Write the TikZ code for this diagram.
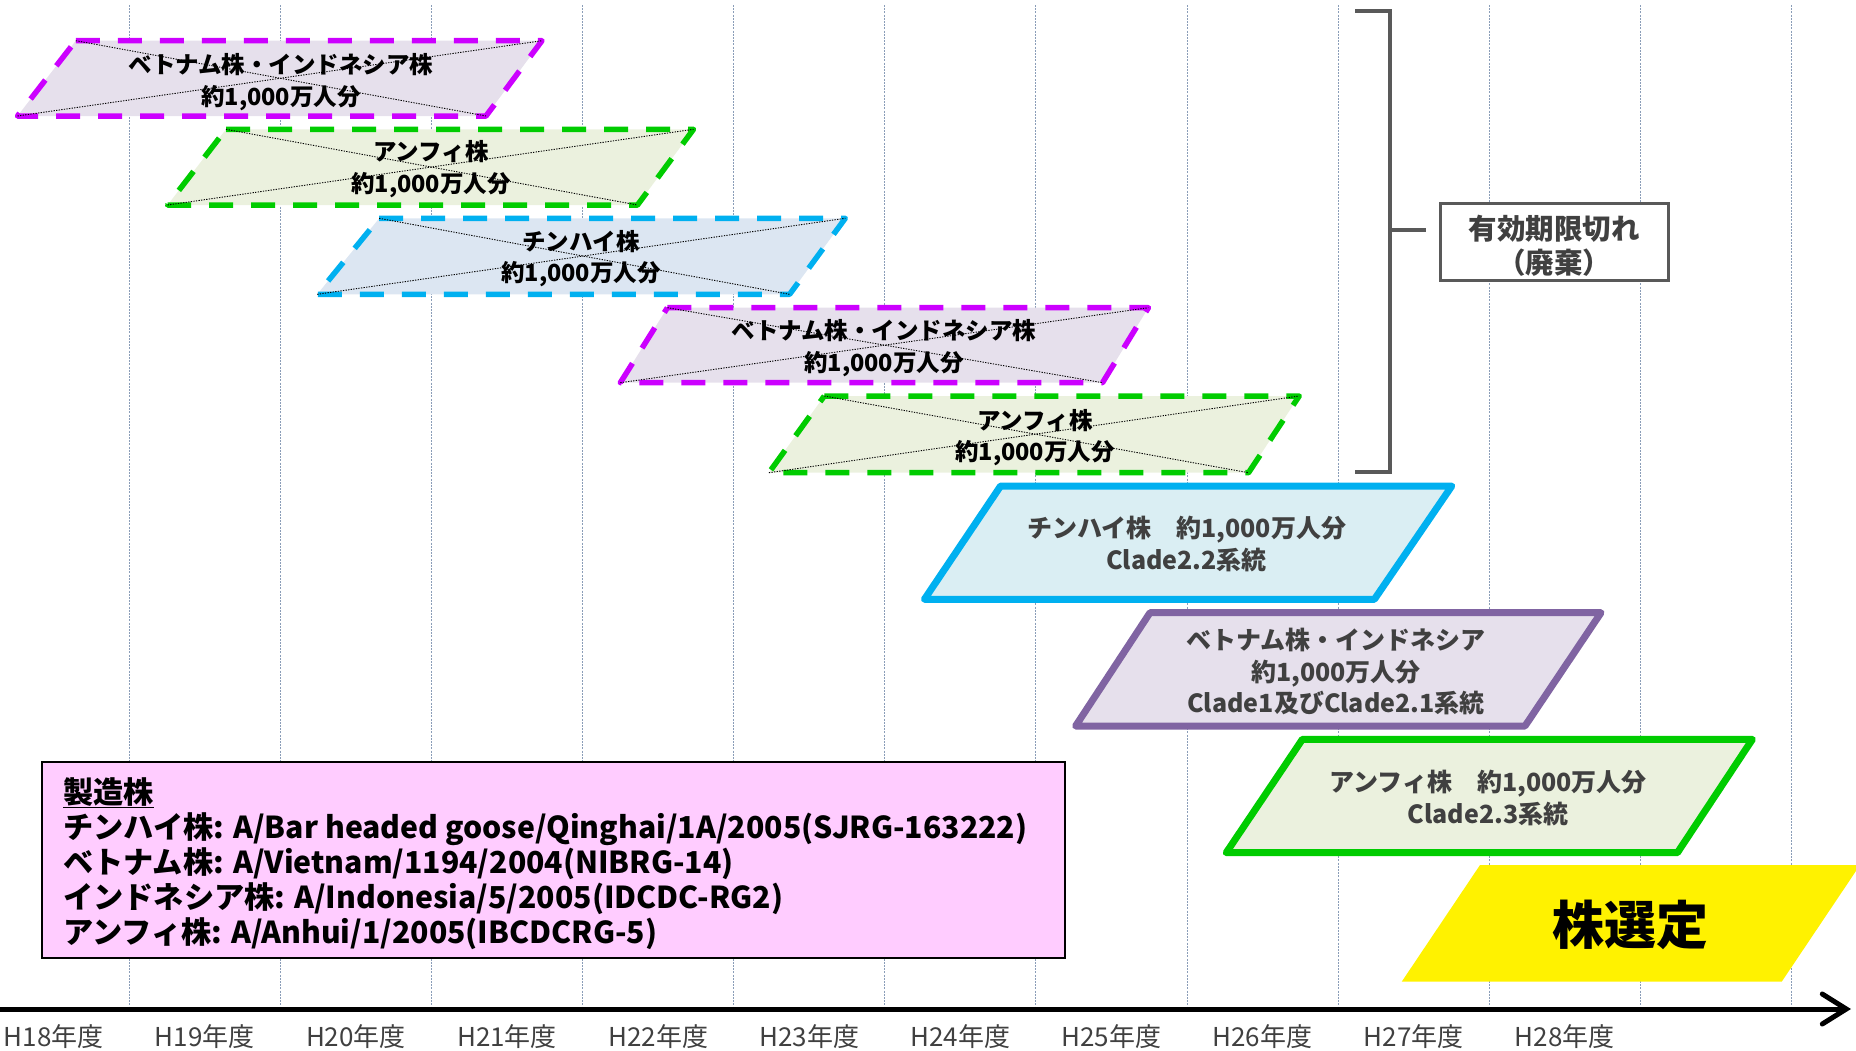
\documentclass[tikz,border=0pt]{standalone}
\usepackage{fontspec}
\setmainfont{Noto Sans CJK JP}
\usetikzlibrary{arrows.meta}
\definecolor{dpurple}{HTML}{CC00FF}
\definecolor{dgreen}{HTML}{00CC00}
\definecolor{dblue}{HTML}{00B0F0}
\definecolor{fpurple}{HTML}{E6E0EC}
\definecolor{fgreen}{HTML}{EBF1DE}
\definecolor{fblue}{HTML}{DCE6F2}
\definecolor{fcyan}{HTML}{DAEEF3}
\definecolor{spurple}{HTML}{8064A2}
\definecolor{fpink}{HTML}{FFCCFF}
\definecolor{brkgray}{HTML}{595959}
\definecolor{txtgray}{HTML}{404040}
\definecolor{gridc}{HTML}{8A9DB8}
\newcommand\plg[8]{%
  \coordinate (#1-tl) at (#5,#3);
  \coordinate (#1-tr) at (#6,#3);
  \coordinate (#1-br) at (#7,#4);
  \coordinate (#1-bl) at (#8,#4);
  \path[#2] (#1-tl) -- (#1-tr) -- (#1-br) -- (#1-bl) -- cycle;}
\newcommand\xcross[1]{%
  \draw[xline] (#1-tl) -- (#1-br);
  \draw[xline] (#1-bl) -- (#1-tr);}
\begin{document}
\begin{tikzpicture}[x=1pt,y=-1pt,
  gridl/.style={draw=gridc,line width=0.9pt,dash pattern=on 2pt off 1.2pt},
  dashbox/.style={line width=5.5pt,dash pattern=on 24pt off 18pt,line join=round},
  solidbox/.style={line width=7pt,line join=round},
  xline/.style={draw=black,line width=0.9pt,dash pattern=on 1.3pt off 1.3pt},
  dtxt/.style={align=center,inner sep=0pt,text=black,font=\bfseries\fontsize{23.5}{31.5}\selectfont},
  stxt/.style={align=center,inner sep=0pt,text=txtgray,font=\bfseries\fontsize{25}{31.7}\selectfont},
  yearlbl/.style={inner sep=0pt,text=txtgray,font=\fontsize{26}{30}\selectfont},
  brk/.style={draw=brkgray,line width=4pt},
]
\useasboundingbox (0,0) rectangle (1856,1050);
% grid lines
\foreach \i in {0,...,11}{
  \draw[gridl] (129.3+151.1*\i,5) -- (129.3+151.1*\i,1007);
}
% dashed (expired) boxes
\plg{d1}{fill=fpurple,draw=dpurple,dashbox}{40.7}{116}{75.8}{542}{486}{17.5}
\xcross{d1}
\node[dtxt] (t1) at (281,82) {ベトナム株・インドネシア株\\約1,000万人分};
\plg{d2}{fill=fgreen,draw=dgreen,dashbox}{129.3}{205}{226}{693.5}{637.5}{167.6}
\xcross{d2}
\node[dtxt] (t2) at (431,169) {アンフィ株\\約1,000万人分};
\plg{d3}{fill=fblue,draw=dblue,dashbox}{218.3}{294.3}{379.2}{845.3}{789.6}{317.2}
\xcross{d3}
\node[dtxt] (t3) at (581,258.7) {チンハイ株\\約1,000万人分};
\plg{d4}{fill=fpurple,draw=dpurple,dashbox}{307.7}{382.7}{667.4}{1148.4}{1102.5}{620.3}
\xcross{d4}
\node[dtxt] (t4) at (884,348.3) {ベトナム株・インドネシア株\\約1,000万人分};
\plg{d5}{fill=fgreen,draw=dgreen,dashbox}{396}{472.7}{824.3}{1299.2}{1248.5}{768.9}
\xcross{d5}
\node[dtxt] (t5) at (1035,437.5) {アンフィ株\\約1,000万人分};
% solid (current) boxes
\plg{s1}{fill=fcyan,draw=dblue,solidbox}{486}{599.3}{1000.6}{1451.8}{1374.4}{924.4}
\node[stxt] (t6) at (1186.6,544) {チンハイ株　約1,000万人分\\Clade2.2系統};
\plg{s2}{fill=fpurple,draw=spurple,solidbox}{612.7}{726}{1150}{1601}{1525}{1075.6}
\node[stxt] (t7) at (1336,671.7) {ベトナム株・インドネシア\\約1,000万人分\\Clade1及びClade2.1系統};
\plg{s3}{fill=fgreen,draw=dgreen,solidbox}{739.3}{852.7}{1302.4}{1752.4}{1677.4}{1226.2}
\node[stxt] (t8) at (1488,798.3) {アンフィ株　約1,000万人分\\Clade2.3系統};
% strain selection
\plg{y1}{fill=yellow}{865}{981.7}{1480}{1860}{1781.7}{1401.7}
\node[inner sep=0pt,font=\bfseries\fontsize{52}{60}\selectfont] (sel) at (1630,925) {株選定};
% bracket
\draw[brk] (1355,11) -- (1390,11) -- (1390,471.7) -- (1355,471.7);
\coordinate (bmid) at (1390,230);
\coordinate (btick) at (1426,230);
\draw[brk] (bmid) -- (btick);
\node[draw=brkgray,line width=3pt,fill=white,minimum width=228pt,minimum height=77pt,inner sep=0pt] (exp) at (1554,241.6) {};
\node[align=center,inner sep=0pt,text=txtgray,font=\bfseries\fontsize{28.5}{34}\selectfont] (exptxt) at (1554,245.5)
  {有効期限切れ\\（廃棄）};
% manufacturing strains
\node[draw=black,line width=2pt,fill=fpink,minimum width=1022.6pt,minimum height=196.6pt,inner sep=0pt] (pink) at (553.3,860) {};
\node[anchor=north west,inner sep=0pt,align=left,text=black,
  font=\bfseries\fontsize{30.2}{35.2}\selectfont] (ptxt) at (63,777)
  {\underline{製造株}\\
   チンハイ株: A/Bar headed goose/Qinghai/1A/2005(SJRG-163222)\\
   ベトナム株: A/Vietnam/1194/2004(NIBRG-14)\\
   インドネシア株: A/Indonesia/5/2005(IDCDC-RG2)\\
   アンフィ株: A/Anhui/1/2005(IBCDCRG-5)};
% time axis
\coordinate (axs) at (0,1009);
\coordinate (axe) at (1851,1009);
\draw[line width=5pt,-{Straight Barb[length=24pt,width=30pt,line cap=round]}] (axs) -- (axe);
\foreach \n [count=\k from 0] in {18,...,28}{
  \node[yearlbl] (yr\n) at (53.7+151.1*\k,1037) {H\n 年度};
}
\end{tikzpicture}
\end{document}
